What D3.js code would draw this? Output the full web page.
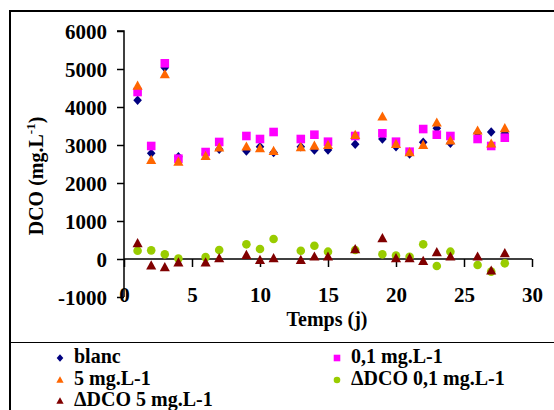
<!DOCTYPE html>
<html>
<head>
<meta charset="utf-8">
<script src="https://cdn.jsdelivr.net/npm/d3@7"></script>
<style>
  html, body { margin: 0; padding: 0; background: #fff; }
  svg { display: block; }
  svg text { font-family: "Liberation Serif", Tinos, "Times New Roman", Times, "DejaVu Serif", serif !important; font-weight: bold; fill: #000; }
</style>
</head>
<body>
<svg id="chart" width="554" height="410"></svg>
<script>
// ---- data ----
const days  = [1, 2, 3, 4, 6, 7, 9, 10, 11, 13, 14, 15, 17, 19, 20, 21, 22, 23, 24, 26, 27, 28];
const blanc = [4180, 2780, 5035, 2690, 2760, 2885, 2840, 2955, 2800, 2955, 2870, 2870, 3018, 3158, 2955, 2763, 3070, 3439, 3044, 3316, 3342, 3306];
const c01   = [4394, 2974, 5150, 2640, 2815, 3080, 3237, 3158, 3342, 3158, 3271, 3087, 3237, 3307, 3087, 2824, 3420, 3271, 3237, 3158, 2974, 3192];
const c5    = [4560, 2605, 4860, 2560, 2710, 2930, 2955, 2910, 2840, 2940, 2980, 3000, 3263, 3745, 3026, 2807, 3000, 3587, 3114, 3377, 3035, 3439];
const d01   = [219, 228, 123, 10, 50, 236, 386, 263, 526, 219, 350, 193, 237, 123, 88, 61, 386, -184, 193, -158, -333, -114];
const d5    = [412, -175, -219, -96, -96, 18, 105, -26, 18, -26, 61, 61, 254, 544, 18, 18, -53, 175, 61, 61, -307, 149];

const xTicks = [0, 5, 10, 15, 20, 25, 30];
const yTicks = [-1000, 0, 1000, 2000, 3000, 4000, 5000, 6000];

const seriesNames = ["blanc", "0,1 mg.L-1", "5 mg.L-1", "\u0394DCO 0,1 mg.L-1", "\u0394DCO 5 mg.L-1"];
const seriesValues = [blanc, c01, c5, d01, d5];

// ---- styling ----
const colors = ["#000080", "#ff00ff", "#ff6600", "#99cc00", "#800000"];
const shapes = ["diamond", "square", "triangle", "circle", "triangle"];
const FONT = '"Liberation Serif", Tinos, "Times New Roman", Times, "DejaVu Serif", serif';

const svg = d3.select("#chart");

const x = d3.scaleLinear().domain([0, 30]).range([124, 532]);
const y = d3.scaleLinear().domain([-1000, 6000]).range([297, 31]);

function shapePath(shape, s) {
  switch (shape) {
    case "diamond": return `M0,${-s*1.1}L${s},0L0,${s*1.1}L${-s},0Z`;
    case "square": return `M${-s},${-s}H${s}V${s}H${-s}Z`;
    case "triangle": return `M0,${-s*1.15}L${s*1.1},${s*0.85}L${-s*1.1},${s*0.85}Z`;
    case "circle": return d3.arc()({innerRadius: 0, outerRadius: s, startAngle: 0, endAngle: 2*Math.PI});
  }
}

// outer frame
svg.append("line").attr("x1", 10).attr("x2", 554).attr("y1", 11).attr("y2", 11)
  .attr("stroke", "#000").attr("stroke-width", 2);
svg.append("line").attr("x1", 10).attr("x2", 10).attr("y1", 10).attr("y2", 410)
  .attr("stroke", "#000").attr("stroke-width", 2);
svg.append("line").attr("x1", 10).attr("x2", 554).attr("y1", 342.5).attr("y2", 342.5)
  .attr("stroke", "#000").attr("stroke-width", 1.2);

// y axis
const yAxis = d3.axisLeft(y).tickValues(yTicks).tickSize(7).tickPadding(10).tickFormat(d => String(d));
const gy = svg.append("g").attr("transform", `translate(${x(0)},0)`).call(yAxis)
  .attr("font-family", FONT).attr("font-size", 21).attr("font-weight", "bold");
gy.select(".domain").attr("stroke", "#000").attr("stroke-width", 1.5).attr("d", `M-7,${y(6000)}H0V${y(-1000)}`);
gy.selectAll(".tick line").attr("stroke", "#000").attr("stroke-width", 1.5);
gy.selectAll(".tick text").attr("fill", "#000").attr("dy", "0.36em");

// x axis (crossing at 0)
const xAxis = d3.axisBottom(x).tickValues(xTicks).tickSize(8).tickPadding(20).tickFormat(d => String(d));
const gx = svg.append("g").attr("transform", `translate(0,${y(0)})`).call(xAxis)
  .attr("font-family", FONT).attr("font-size", 21).attr("font-weight", "bold");
gx.select(".domain").attr("stroke", "#000").attr("stroke-width", 1.5).attr("d", `M${x(0)},0H${x(30)}`);
gx.selectAll(".tick line").attr("stroke", "#000").attr("stroke-width", 1.5);
gx.selectAll(".tick text").attr("fill", "#000");

// axis titles
svg.append("text").attr("x", 327).attr("y", 326).attr("text-anchor", "middle")
  .attr("font-size", 20).text("Temps (j)");

const yt = svg.append("text").attr("transform", "translate(43,176) rotate(-90)").attr("text-anchor", "middle")
  .attr("font-size", 20);
yt.append("tspan").text("DCO (mg.L");
yt.append("tspan").attr("dy", -8).attr("font-size", 13).text("-1");
yt.append("tspan").attr("dy", 8).text(")");

// marks
seriesValues.forEach((vals, i) => {
  const size = shapes[i] === "triangle" ? 4.6 : 4.3;
  svg.append("g").selectAll("path").data(days.map((d, j) => [d, vals[j]])).join("path")
    .attr("transform", d => `translate(${x(d[0])},${y(d[1])})`)
    .attr("d", shapePath(shapes[i], size))
    .attr("fill", colors[i]);
});

// legend
const legendPos = [[60, 358], [337, 358], [60, 380], [337, 380], [60, 401]];
seriesNames.forEach((name, i) => {
  const [lx, ly] = legendPos[i];
  svg.append("path").attr("transform", `translate(${lx},${ly})`)
    .attr("d", shapePath(shapes[i], 3.3)).attr("fill", colors[i]);
  svg.append("text").attr("x", lx + 14).attr("y", ly + 5).attr("font-size", 20).text(name);
});
</script>
</body>
</html>
